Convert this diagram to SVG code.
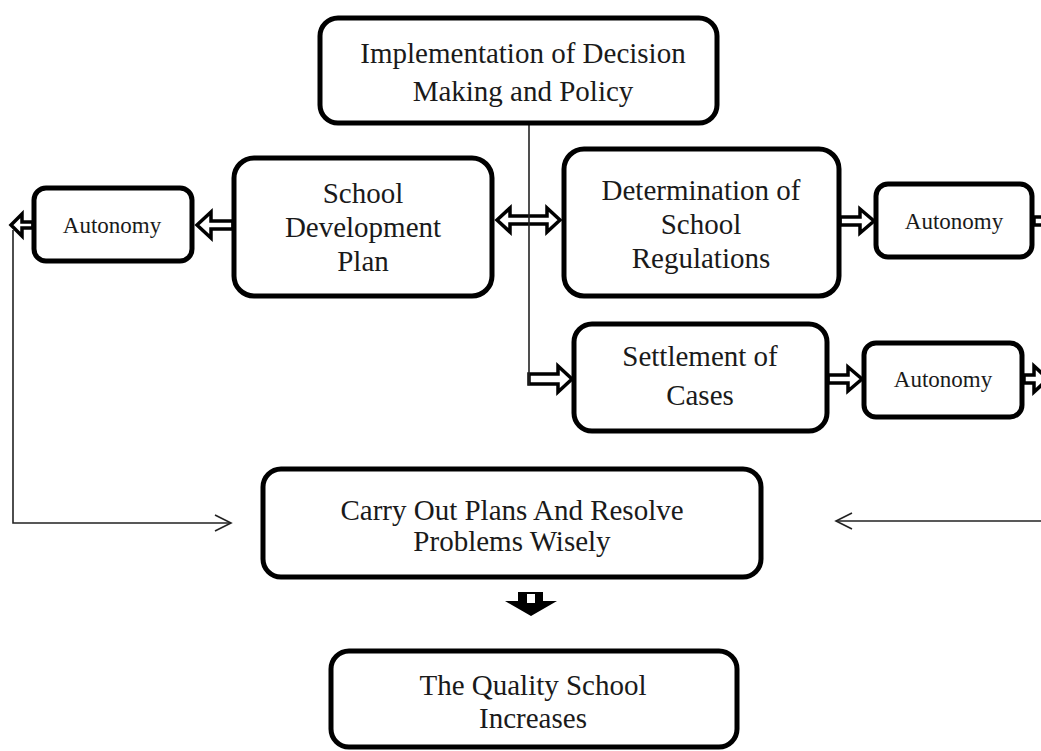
<svg xmlns="http://www.w3.org/2000/svg" width="1041" height="751" viewBox="0 0 1041 751">
  <style>
    .box { fill: #fff; stroke: #000; stroke-width: 5; }
    .t { font-family: "Liberation Serif", "Times New Roman", serif; font-size: 29px; fill: #1a1a1a; text-anchor: middle; }
    .ts { font-family: "Liberation Serif", "Times New Roman", serif; font-size: 23px; fill: #1a1a1a; text-anchor: middle; }
    .block { fill: #fff; stroke: #000; stroke-width: 3.5; stroke-linejoin: miter; }
    .thin { fill: none; stroke: #222; stroke-width: 1.6; }
  </style>

  <!-- connectors -->
  <g id="connectors">
    <!-- hollow block arrows -->
    <path class="block" d="M497,220 L510,208 L510,216 L547,216 L547,208 L560,220 L547,232 L547,224 L510,224 L510,232 Z"/>
    <path class="block" d="M233,221 L211,221 L211,212 L197,225 L211,238 L211,229 L233,229 Z"/>
    <path class="block" d="M33,222 L22,222 L22,214 L11,225 L22,236 L22,228 L33,228 Z"/>
    <path class="block" d="M840,217 L860,217 L860,209 L874,221 L860,233 L860,225 L840,225 Z"/>
    <path class="block" d="M1034,217 L1044,217 L1044,208 L1058,221 L1044,234 L1044,225 L1034,225 Z"/>
    <path class="block" d="M529,374 L558,374 L558,366 L572,379 L558,392 L558,384 L529,384 Z"/>
    <path class="block" d="M828,375 L848,375 L848,367 L862,379 L848,391 L848,383 L828,383 Z"/>
    <path class="block" d="M1024,375 L1034,375 L1034,366 L1048,379 L1034,392 L1034,383 L1024,383 Z"/>

    <!-- downward arrow -->
    <path d="M518,592 L543,592 L543,601 L557,601 L531,616 L505,601 L518,601 Z" fill="#000"/>
    <rect x="527" y="594" width="8" height="9" fill="#fff"/>

    <!-- trunk from the top node -->
    <path class="thin" d="M529,124 V385"/>

    <!-- feedback lines -->
    <path class="thin" d="M13,230 V523 H231"/>
    <path class="thin" d="M215,515 L231,523 L215,531"/>
    <path class="thin" d="M1041,521 H836"/>
    <path class="thin" d="M852,513 L836,521 L852,529"/>
  </g>

  <g id="node-implementation">
    <rect class="box" x="320" y="18" width="397" height="105" rx="18"/>
    <text class="t" x="523" y="63">Implementation of Decision</text>
    <text class="t" x="523" y="101">Making and Policy</text>
  </g>

  <g id="node-development-plan">
    <rect class="box" x="234" y="158" width="258" height="138" rx="20"/>
    <text class="t" x="363" y="203">School</text>
    <text class="t" x="363" y="237">Development</text>
    <text class="t" x="363" y="271">Plan</text>
  </g>

  <g id="node-regulations">
    <rect class="box" x="564" y="149" width="275" height="147" rx="20"/>
    <text class="t" x="701" y="200">Determination of</text>
    <text class="t" x="701" y="234">School</text>
    <text class="t" x="701" y="268">Regulations</text>
  </g>

  <g id="node-settlement">
    <rect class="box" x="574" y="324" width="253" height="107" rx="18"/>
    <text class="t" x="700" y="366">Settlement of</text>
    <text class="t" x="700" y="405">Cases</text>
  </g>

  <g id="node-autonomy-left">
    <rect class="box" x="34" y="188" width="158" height="73" rx="12"/>
    <text class="ts" x="112" y="233">Autonomy</text>
  </g>

  <g id="node-autonomy-regulations">
    <rect class="box" x="876" y="184" width="156" height="73" rx="12"/>
    <text class="ts" x="954" y="229">Autonomy</text>
  </g>

  <g id="node-autonomy-cases">
    <rect class="box" x="864" y="343" width="158" height="74" rx="12"/>
    <text class="ts" x="943" y="387">Autonomy</text>
  </g>

  <g id="node-carry-out">
    <rect class="box" x="263" y="469" width="498" height="108" rx="18"/>
    <text class="t" x="512" y="520">Carry Out Plans And Resolve</text>
    <text class="t" x="512" y="551">Problems Wisely</text>
  </g>

  <g id="node-quality">
    <rect class="box" x="331" y="651" width="406" height="96" rx="18"/>
    <text class="t" x="533" y="695">The Quality School</text>
    <text class="t" x="533" y="728">Increases</text>
  </g>
</svg>
